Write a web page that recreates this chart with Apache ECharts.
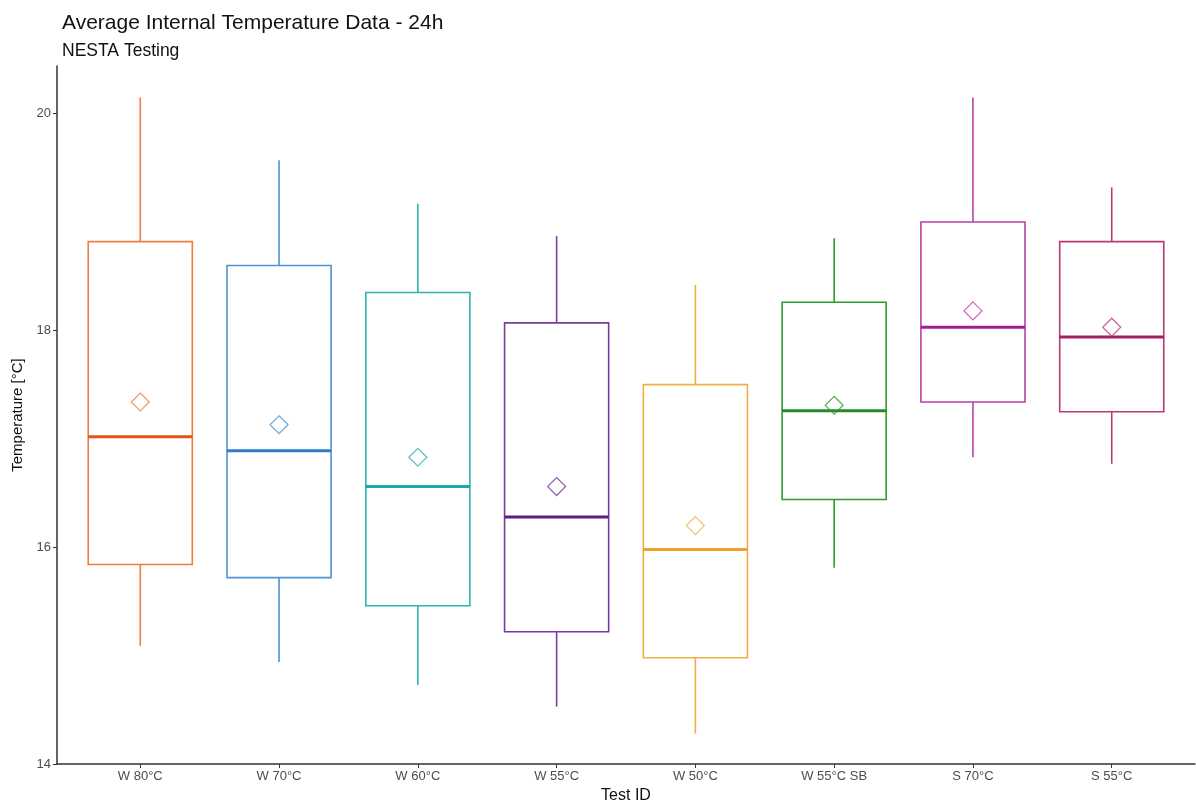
<!DOCTYPE html>
<html>
<head>
<meta charset="utf-8">
<script src="https://cdn.jsdelivr.net/npm/echarts@6/dist/echarts.min.js"></script>
<style>
html,body{margin:0;padding:0;background:#fff;overflow:hidden;}
#c{width:1196px;height:809px;}
</style>
</head>
<body>
<div id="c"></div>
<script>
const categories = ['W 80°C','W 70°C','W 60°C','W 55°C','W 50°C','W 55°C SB','S 70°C','S 55°C'];
const whiskerLow  = [15.09, 14.94, 14.73, 14.53, 14.28, 15.81, 16.83, 16.77];
const q1          = [15.84, 15.72, 15.46, 15.22, 14.98, 16.44, 17.34, 17.25];
const median      = [17.02, 16.89, 16.56, 16.28, 15.98, 17.26, 18.03, 17.94];
const q3          = [18.82, 18.60, 18.35, 18.07, 17.50, 18.26, 19.00, 18.82];
const whiskerHigh = [20.15, 19.57, 19.17, 18.87, 18.42, 18.85, 20.15, 19.32];
const means       = [17.34, 17.13, 16.83, 16.56, 16.20, 17.31, 18.18, 18.03];
const yTicks = [14, 16, 18, 20];

const boxColors    = ['#EE7E3E','#4F93D3','#2DB4B4','#7A3A9E','#F2AE45','#2E9B2E','#BA3FA8','#B83A74'];
const medianColors = ['#E0561A','#2F7CC9','#1FA8A8','#5A1C85','#F0A030','#258A25','#A0208E','#A02060'];

const chart = echarts.init(document.getElementById('c'), null, {renderer:'canvas', width: 1196, height: 809});

const boxData = categories.map((c, i) => [i, whiskerLow[i], q1[i], median[i], q3[i], whiskerHigh[i]]);
const meanData = categories.map((c, i) => ({
  value: [i, means[i]],
  itemStyle: {color: 'rgba(0,0,0,0)', borderColor: boxColors[i], borderWidth: 1.2}
}));

function renderBox(params, api) {
  const i = api.value(0);
  const lo = api.coord([i, api.value(1)]);
  const b1 = api.coord([i, api.value(2)]);
  const md = api.coord([i, api.value(3)]);
  const b3 = api.coord([i, api.value(4)]);
  const hi = api.coord([i, api.value(5)]);
  const w = api.size([0.75, 0])[0];
  const x = lo[0];
  const col = boxColors[i];
  const mcol = medianColors[i];
  return {
    type: 'group',
    children: [
      {type:'line', shape:{x1:x, y1:hi[1], x2:x, y2:b3[1]}, style:{stroke:col, lineWidth:1.6}},
      {type:'line', shape:{x1:x, y1:b1[1], x2:x, y2:lo[1]}, style:{stroke:col, lineWidth:1.6}},
      {type:'rect', shape:{x:x - w/2, y:b3[1], width:w, height:b1[1]-b3[1]}, style:{fill:'none', stroke:col, lineWidth:1.6}},
      {type:'line', shape:{x1:x - w/2, y1:md[1], x2:x + w/2, y2:md[1]}, style:{stroke:mcol, lineWidth:3}}
    ]
  };
}

const FONT = 'Liberation Sans, Arial, sans-serif';
const option = {
  backgroundColor: '#ffffff',
  animation: false,
  title: [
    {text: 'Average Internal Temperature Data - 24h', left: 57, top: 8,
     textStyle: {fontFamily: FONT, fontSize: 21, fontWeight: 'normal', color: '#111'}},
    {text: 'NESTA Testing', left: 57, top: 37,
     textStyle: {fontFamily: FONT, fontSize: 17.5, fontWeight: 'normal', color: '#111'}}
  ],
  grid: {left: 57, right: 1, top: 66, bottom: 41, containLabel: false},
  xAxis: {
    type: 'value', min: -0.6, max: 7.6,
    name: 'Test ID', nameLocation: 'middle', nameGap: 24,
    nameTextStyle: {fontFamily: FONT, fontSize: 16, color: '#111'},
    axisLine: {show: true, onZero: false, lineStyle: {color: '#333', width: 1.5}},
    axisTick: {show: true, customValues: categories.map((c, i) => i), length: 4, lineStyle: {color: '#333'}},
    axisLabel: {customValues: categories.map((c, i) => i), formatter: v => categories[Math.round(v)],
      fontFamily: FONT, fontSize: 13, color: '#4D4D4D', margin: 6},
    splitLine: {show: false}
  },
  yAxis: {
    type: 'value', min: 14, max: 20.44,
    name: 'Temperature [°C]', nameLocation: 'middle', nameGap: 30, nameRotate: 90,
    nameTextStyle: {fontFamily: FONT, fontSize: 15, color: '#111'},
    axisLine: {show: true, onZero: false, lineStyle: {color: '#333', width: 1.5}},
    axisTick: {show: true, customValues: yTicks, length: 4, lineStyle: {color: '#333'}},
    axisLabel: {customValues: yTicks, fontFamily: FONT, fontSize: 13, color: '#4D4D4D', margin: 6},
    splitLine: {show: false}
  },
  series: [
    {type: 'custom', renderItem: renderBox, data: boxData, encode: {x: 0, y: [1,2,3,4,5]}, z: 2},
    {type: 'scatter', symbol: 'diamond', symbolSize: [18, 18], data: meanData, z: 3}
  ]
};
chart.setOption(option);
</script>
</body>
</html>
